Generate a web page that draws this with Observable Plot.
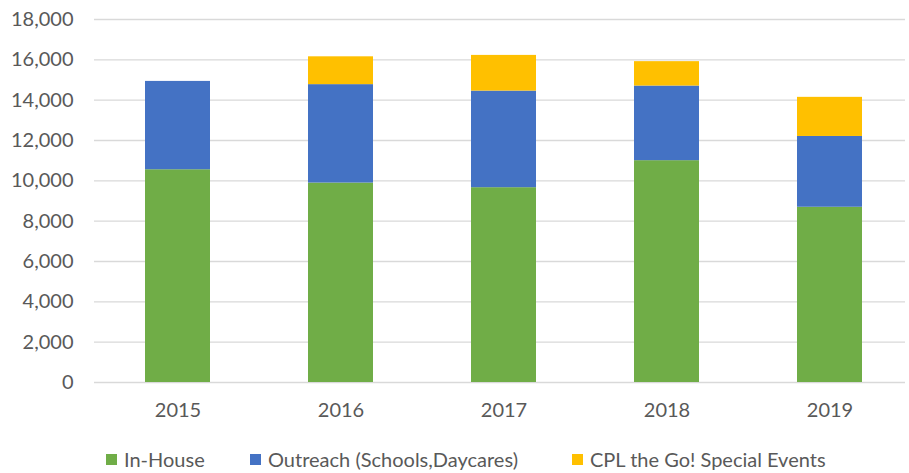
<!DOCTYPE html>
<html>
<head>
<meta charset="utf-8">
<script src="https://cdn.jsdelivr.net/npm/d3@7"></script>
<script src="https://cdn.jsdelivr.net/npm/@observablehq/plot@0.6"></script>
<style>
  html, body { margin: 0; padding: 0; background: #fff; }
  body { width: 909px; height: 473px; overflow: hidden; font-family: Lato, "Open Sans", sans-serif; }
  #legend { display: flex; align-items: center; height: 33px; font-size: 20px; color: #595959; position: relative; }
  .item { position: absolute; display: flex; align-items: center; }
  .sw { width: 11px; height: 11px; margin-right: 7px; }
</style>
</head>
<body>
<div id="chart"></div>
<div id="legend"></div>
<script>
const years = ["2015", "2016", "2017", "2018", "2019"];
const seriesNames = ["In-House", "Outreach (Schools,Daycares)", "CPL the Go! Special Events"];
const inHouse = [10550, 9890, 9660, 11000, 8690];
const outreach = [4380, 4880, 4790, 3700, 3510];
const specialEvents = [0, 1380, 1770, 1210, 1940];
const colors = ["#70AD47", "#4472C4", "#FFC000"];
const yTicks = [0, 2000, 4000, 6000, 8000, 10000, 12000, 14000, 16000, 18000];

const values = [inHouse, outreach, specialEvents];
const data = [];
seriesNames.forEach((s, si) => years.forEach((y, yi) => data.push({year: y, series: s, value: values[si][yi]})));

const chart = Plot.plot({
  width: 909,
  height: 440,
  marginLeft: 94,
  marginRight: 4,
  marginTop: 19,
  marginBottom: 58,
  style: {fontFamily: "Lato, 'Open Sans', sans-serif", fontSize: "20px", color: "#595959", background: "#fff"},
  x: {domain: years, range: [94.4, 913.4], paddingInner: 0.6, paddingOuter: 0.3, label: null, tickSize: 0, tickPadding: 20},
  y: {domain: [0, 18000], ticks: yTicks, tickFormat: d3.format(","), label: null, tickSize: 0, tickPadding: 21, grid: false},
  color: {domain: seriesNames, range: colors},
  marks: [
    Plot.gridY(yTicks, {stroke: "#D9D9D9", strokeOpacity: 1, strokeWidth: 1.3}),
    Plot.barY(data, {x: "year", y: "value", fill: "series", order: seriesNames}),
    Plot.axisX({tickSize: 0, tickPadding: 20, fill: "#595959"}),
    Plot.axisY({ticks: yTicks, tickFormat: d3.format(","), tickSize: 0, tickPadding: 21, fill: "#595959"})
  ]
});
document.getElementById("chart").appendChild(chart);

const legend = document.getElementById("legend");
const legendX = [106, 250, 572];
seriesNames.forEach((s, i) => {
  const it = document.createElement("div");
  it.className = "item";
  it.style.left = legendX[i] + "px";
  it.style.top = "7px";
  const sw = document.createElement("span");
  sw.className = "sw";
  sw.style.background = colors[i];
  const t = document.createElement("span");
  t.textContent = s;
  it.appendChild(sw); it.appendChild(t);
  legend.appendChild(it);
});
</script>
</body>
</html>
